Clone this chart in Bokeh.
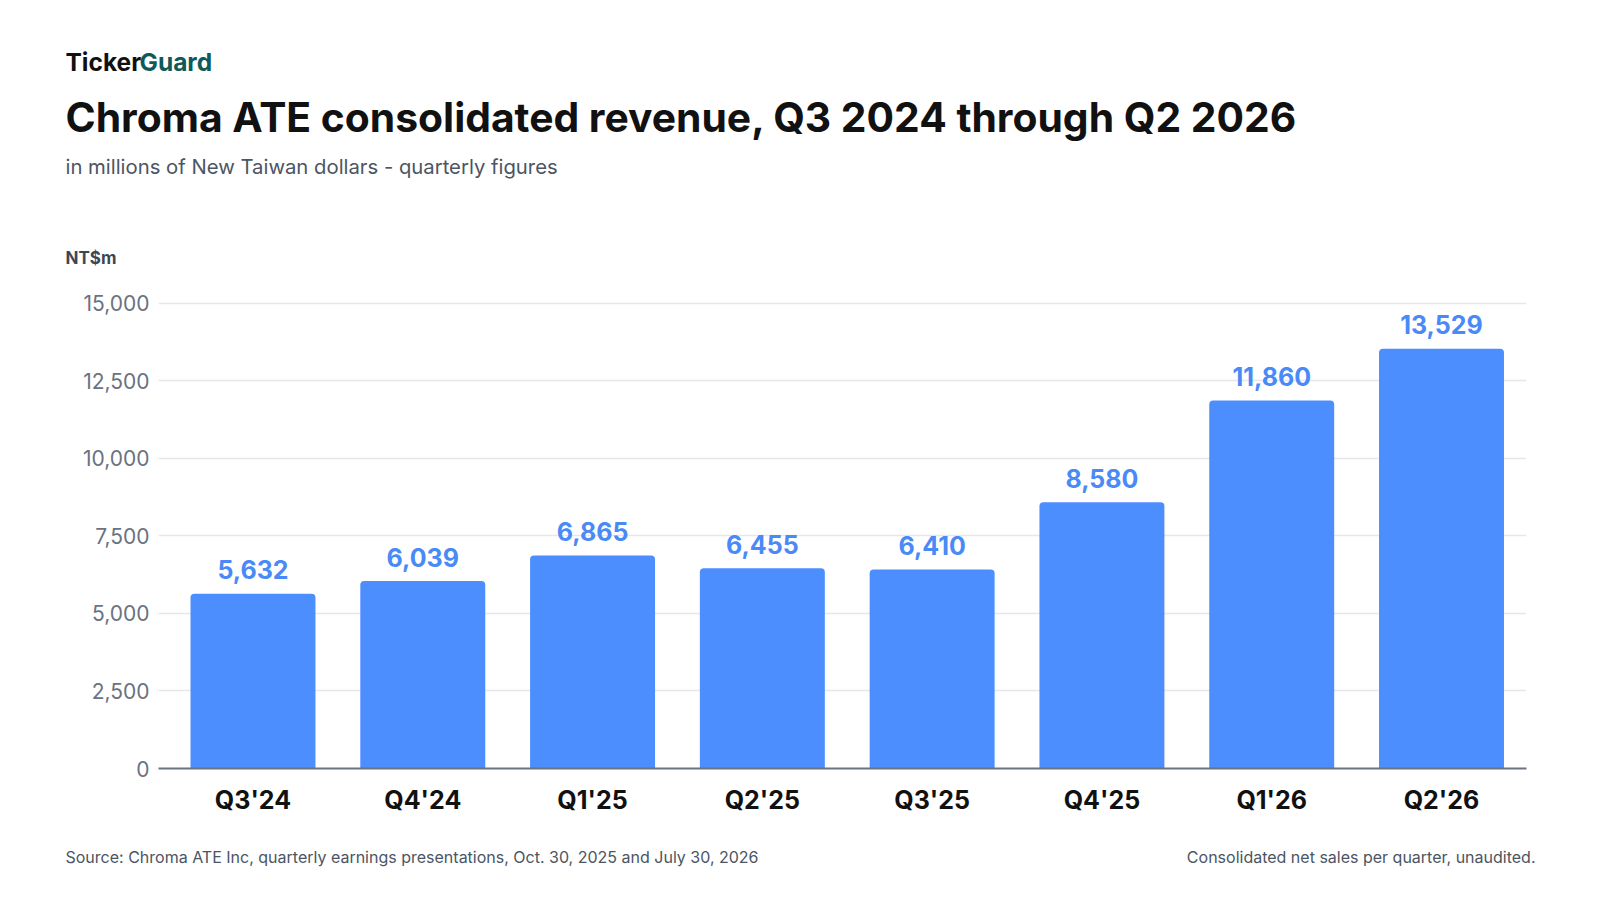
#!/usr/bin/env python

from bokeh.plotting import figure
from bokeh.layouts import column
from bokeh.models import Range1d, FixedTicker, NumeralTickFormatter, Label, ColumnDataSource
from bokeh.core.properties import value
from bokeh.embed import file_html
from bokeh.resources import INLINE

quarters = ["Q3'24", "Q4'24", "Q1'25", "Q2'25", "Q3'25", "Q4'25", "Q1'26", "Q2'26"]
revenue = [5632, 6039, 6865, 6455, 6410, 8580, 11860, 13529]
y_ticks = [0, 2500, 5000, 7500, 10000, 12500, 15000]

FONT = "Inter"
BAR = "#4d8eff"
W = 1584


def text_strip(height):
    # a bare figure used only to hold header / footer texts, in pixel units
    f = figure(width=W, height=height, title=None,
               x_range=Range1d(0, W), y_range=Range1d(height, 0),
               x_axis_type=None, y_axis_type=None, output_backend="svg",
               toolbar_location=None, min_border=0, frame_align=False)
    f.outline_line_color = None
    f.grid.visible = False
    return f


def put(f, x, y, s, size, color, style="normal", align="left"):
    f.add_layout(Label(x=x, y=y, text=s, text_font=FONT, text_font_size=size,
                       text_color=color, text_font_style=style, text_align=align,
                       text_baseline="alphabetic"))


def main():
    header = text_strip(276)
    put(header, 65, 61, "Ticker", "24.5px", "#111111", "bold")
    put(header, 139, 61, "Guard", "24.5px", "#0e5a5a", "bold")
    put(header, 65, 116.6, "Chroma ATE consolidated revenue, Q3 2024 through Q2 2026",
        "40.8px", "#111111", "bold")
    put(header, 65, 166.3, "in millions of New Taiwan dollars - quarterly figures", "20.3px", "#4b5563")
    put(header, 65, 257, "NT$m", "17px", "#3d4654", "bold")

    xs = list(range(len(quarters)))
    src = ColumnDataSource(dict(
        x=xs,
        top=revenue,
        label=["{:,}".format(v) for v in revenue],
    ))

    p = figure(width=W, height=554, title=None,
               x_range=Range1d(-0.5565, 7.5006), y_range=Range1d(0, 15081),
               output_backend="svg", toolbar_location=None, frame_align=False,
               min_border_left=158, min_border_right=W - 1526,
               min_border_top=24, min_border_bottom=62)
    p.outline_line_color = None

    p.vbar(x="x", top="top", width=0.736, bottom=0, source=src,
           fill_color=BAR, line_color=None, border_radius=(4, 4, 0, 0))
    p.text(x="x", y="top", text="label", source=src, y_offset=-24,
           text_align="center", text_baseline="alphabetic",
           text_font=value(FONT), text_font_style="bold",
           text_font_size="25px", text_color="#4a8af7")

    xa = p.xaxis[0]
    xa.ticker = FixedTicker(ticks=xs)
    xa.major_label_overrides = {i: q for i, q in enumerate(quarters)}
    xa.axis_line_color = "#6b7280"
    xa.axis_line_width = 2
    xa.major_tick_line_color = None
    xa.minor_tick_line_color = None
    xa.major_tick_out = 0
    xa.major_label_standoff = 16
    xa.major_label_text_font = FONT
    xa.major_label_text_font_style = "bold"
    xa.major_label_text_font_size = "25px"
    xa.major_label_text_color = "#111111"

    ya = p.yaxis[0]
    ya.ticker = FixedTicker(ticks=y_ticks)
    ya.formatter = NumeralTickFormatter(format="0,0")
    ya.axis_line_color = None
    ya.major_tick_line_color = None
    ya.minor_tick_line_color = None
    ya.major_tick_out = 0
    ya.major_label_standoff = 9
    ya.major_label_text_font = FONT
    ya.major_label_text_font_size = "21px"
    ya.major_label_text_color = "#6b7280"

    p.xgrid.grid_line_color = None
    p.ygrid.grid_line_color = "#e5e7eb"
    p.ygrid.grid_line_width = 1.5

    footer = text_strip(54)
    put(footer, 65, 26.1, "Source: Chroma ATE Inc, quarterly earnings presentations, Oct. 30, 2025 and July 30, 2026",
        "16px", "#4b5563")
    put(footer, 1535, 26.1, "Consolidated net sales per quarter, unaudited.", "16px", "#4b5563",
        align="right")

    page = column(header, p, footer, spacing=0)
    open("out.html", "w").write(file_html(page, INLINE))


if __name__ == "__main__":
    main()
